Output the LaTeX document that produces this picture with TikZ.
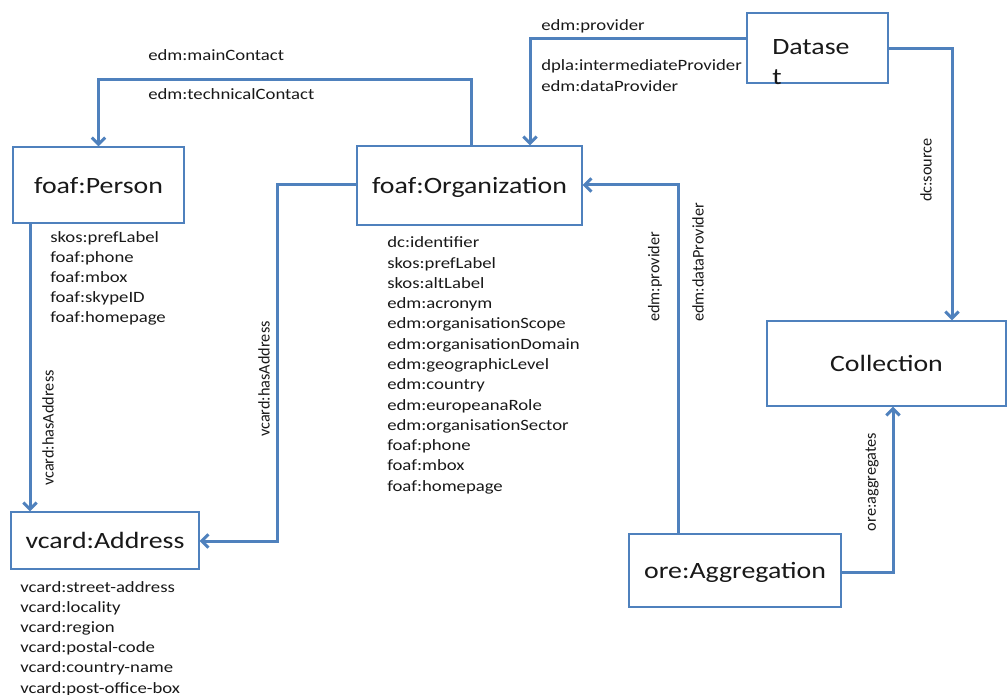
\documentclass[tikz,border=0pt]{standalone}
\usepackage{fontspec}
\setmainfont{Carlito}[FakeStretch=1.19]
\newfontfamily\rotfont{Carlito}
\usetikzlibrary{arrows.meta,fit}
\definecolor{edgeblue}{RGB}{79,129,189}
\definecolor{txt}{RGB}{25,25,25}
\begin{document}
\begin{tikzpicture}[x=0.75pt,y=-0.75pt,
  box/.style={draw=edgeblue, line width=1pt, inner sep=0pt, fill=white},
  boxtxt/.style={font=\fontsize{17.55}{20}\selectfont, text=txt, inner sep=0pt,
                 text depth=0pt},
  bigtxt/.style={font=\fontsize{17.55}{20}\selectfont, text=txt, inner sep=0pt, anchor=base west},
  conn/.style={draw=edgeblue, line width=2.25pt,
               -{Straight Barb[length=5pt,width=10pt]}},
  lbl/.style={font=\fontsize{11.8}{14}\selectfont, text=txt, inner sep=0pt, anchor=base west},
  rlbl/.style={font=\rotfont\fontsize{12.2}{14}\selectfont, text=txt, inner sep=0pt, rotate=90},
]
\useasboundingbox (0,0) rectangle (1007,695);

% boxes
\node[box, fit={(13,147) (184,223)}, label={[boxtxt]center:foaf:Person}] (person) {};
\node[box, fit={(357,146) (582,225)}, label={[boxtxt]center:foaf:Organization}] (org) {};
\node[box, fit={(747,13) (888,83)}] (ds) {};
\node[box, fit={(767,321) (1006,406)}, label={[boxtxt]center:Collection}] (coll) {};
\node[box, fit={(629,534) (841,607)}, label={[boxtxt]center:ore:Aggregation}] (agg) {};
\node[box, fit={(11,512) (199,569)}, label={[boxtxt]center:vcard:Address}] (addr) {};

\node[bigtxt] (dsA) at (772,55) {Datase};
\node[bigtxt] (dsB) at (772,85) {t};

% corner coordinates
\coordinate (c1) at (471,80);
\coordinate (c2) at (530,39);
\coordinate (c3) at (952,49);
\coordinate (c4) at (678,185);
\coordinate (c5) at (893,572);
\coordinate (c6) at (30,300);
\coordinate (c7) at (277,185);
\coordinate (c8) at (277,541);

% connectors
\draw[conn] (org.north -| c1) -- (c1) -| (person.north);
\draw[conn] (ds.west |- c2) -- (c2) -- (org.north -| c2);
\draw[conn] (ds.east |- c3) -- (c3) -- (coll.north -| c3);
\draw[conn] (agg.north -| c4) -- (c4) -- (org.east |- c4);
\draw[conn] (agg.east |- c5) -- (c5) -- (coll.south -| c5);
\draw[conn] (person.south -| c6) -- (addr.north -| c6);
\draw[conn] (org.west |- c7) -- (c7) -- (c8) -- (addr.east |- c8);

% connector labels
\node[lbl] (lMain) at (148,61) {edm:mainContact};
\node[lbl] (lTech) at (148,100) {edm:technicalContact};
\node[lbl] (lProv) at (541,31) {edm:provider};
\node[lbl] (lInter) at (541,71) {dpla:intermediateProvider};
\node[lbl] (lDataP) at (541,92) {edm:dataProvider};
\node[rlbl] (lAddr1) at (48,428) {vcard:hasAddress};
\node[rlbl] (lAddr2) at (264,379) {vcard:hasAddress};
\node[rlbl, anchor=west] (lProv2) at (655,322) {edm:provider};
\node[rlbl, anchor=west] (lDataP2) at (698,322) {edm:dataProvider};
\node[rlbl] (lSource) at (926,170) {dc:source};
\node[rlbl] (lAggr) at (872,482) {ore:aggregates};

% property lists
\foreach \t [count=\i] in {skos:prefLabel, foaf:phone, foaf:mbox, foaf:skypeID, foaf:homepage}
  \node[lbl, name=pp\i] at (50, {243+20*(\i-1)}) {\t};
\foreach \t [count=\i] in {dc:identifier, skos:prefLabel, skos:altLabel, edm:acronym,
  edm:organisationScope, edm:organisationDomain, edm:geographicLevel, edm:country,
  edm:europeanaRole, edm:organisationSector, foaf:phone, foaf:mbox, foaf:homepage}
  \node[lbl, name=po\i] at (387, {248+20.25*(\i-1)}) {\t};
\foreach \t [count=\i] in {vcard:street-address, vcard:locality, vcard:region,
  vcard:postal-code, vcard:country-name, vcard:post-office-box}
  \node[lbl, name=pa\i] at (20, {592+20.2*(\i-1)}) {\t};
\end{tikzpicture}
\end{document}
